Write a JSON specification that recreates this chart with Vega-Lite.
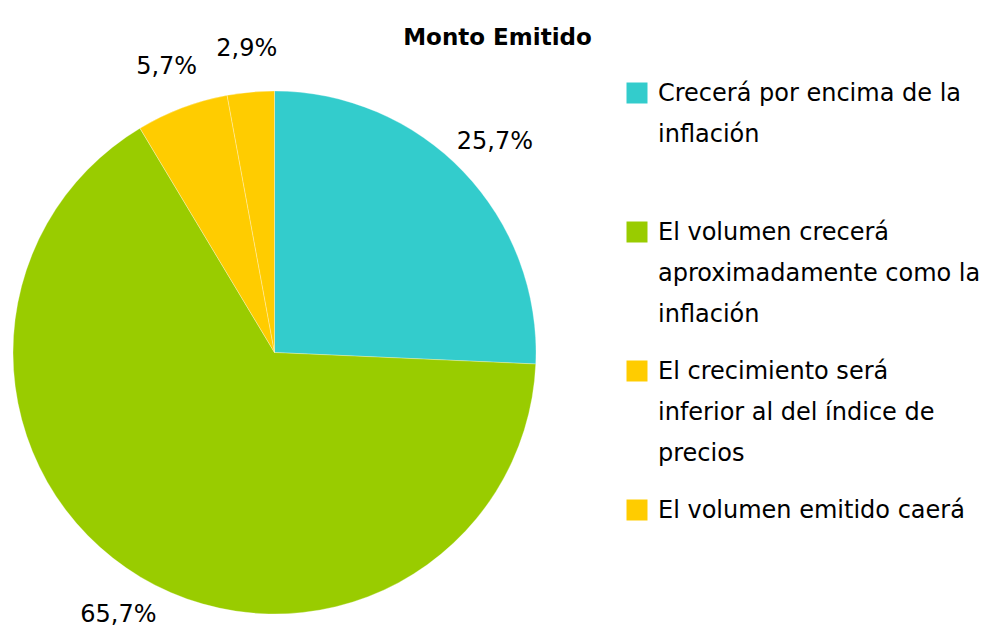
{
  "$schema": "https://vega.github.io/schema/vega-lite/v6.json",
  "autosize": {"type": "none"},
  "padding": {"left": 0, "top": 91, "right": 446, "bottom": 15},
  "width": 549,
  "height": 523,
  "background": "#ffffff",
  "title": {"text": "Monto Emitido", "font": "DejaVu Sans", "fontSize": 23, "fontWeight": "bold", "anchor": "middle", "frame": "bounds", "offset": -31, "dx": 7, "baseline": "alphabetic", "color": "#000000"},
  "data": {"values": [
    {"categoria": "Crecerá por encima de la inflación", "porcentaje": 25.7, "etiqueta": "25,7%", "orden": 1},
    {"categoria": "El volumen crecerá aproximadamente como la inflación", "porcentaje": 65.7, "etiqueta": "65,7%", "orden": 2},
    {"categoria": "El crecimiento será inferior al del índice de precios", "porcentaje": 5.7, "etiqueta": "5,7%", "orden": 3},
    {"categoria": "El volumen emitido caerá", "porcentaje": 2.9, "etiqueta": "2,9%", "orden": 4}
  ]},
  "encoding": {
    "theta": {"field": "porcentaje", "type": "quantitative", "stack": true},
    "order": {"field": "orden", "type": "quantitative"}
  },
  "layer": [
    {
      "mark": {"type": "arc", "outerRadius": 261.5, "stroke": "#ffffff", "strokeWidth": 0.6, "strokeOpacity": 0.5},
      "encoding": {
        "color": {
          "field": "categoria", "type": "nominal",
          "scale": {
            "domain": ["Crecerá por encima de la inflación", "El volumen crecerá aproximadamente como la inflación", "El crecimiento será inferior al del índice de precios", "El volumen emitido caerá"],
            "range": ["#33CCCC", "#99CC00", "#FFCC00", "#FFCC00"]
          },
          "legend": {
            "title": null,
            "orient": "none",
            "legendX": 625,
            "legendY": -10,
            "symbolType": "square",
            "symbolSize": 441,
            "symbolStrokeWidth": 0,
            "symbolOpacity": 1,
            "labelFont": "DejaVu Sans",
            "labelFontSize": 24,
            "labelColor": "#000000",
            "labelBaseline": "top",
            "labelOffset": 9,
            "labelLimit": 0,
            "rowPadding": 32,
            "labelExpr": "datum.label == 'Crecerá por encima de la inflación' ? ['Crecerá por encima de la', 'inflación', ''] : datum.label == 'El volumen crecerá aproximadamente como la inflación' ? ['El volumen crecerá', 'aproximadamente como la', 'inflación'] : datum.label == 'El crecimiento será inferior al del índice de precios' ? ['El crecimiento será', 'inferior al del índice de', 'precios'] : datum.label"
          }
        }
      }
    },
    {
      "mark": {"type": "text", "radius": 305, "font": "DejaVu Sans", "fontSize": 24, "color": "#000000"},
      "encoding": {"text": {"field": "etiqueta", "type": "nominal"}}
    }
  ],
  "config": {"view": {"stroke": null}, "style": {"guide-label": {"lineHeight": 41, "dy": -11}}}
}
